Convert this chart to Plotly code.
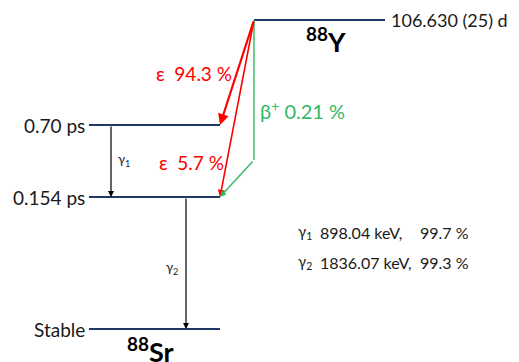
import plotly.graph_objects as go

# ---- Decay scheme data (diagram coordinates) ----
level_labels = ["106.630 (25) d", "0.70 ps", "0.154 ps", "Stable"]
level_y = [20, 125, 197, 329]
level_x0 = [254, 89, 89, 89]
level_x1 = [385, 220, 220, 220]

nuclide_labels = ["<b><sup>88</sup>Y</b>", "<b><sup>88</sup>Sr</b>"]
nuclide_x = [326, 150]
nuclide_y = [40, 350]

# epsilon branches
eps_labels = ["ε  94.3 %", "ε  5.7 %"]
eps_to = [1, 2]
eps_label_x = [194, 191]
eps_label_y = [73, 162]

beta_label = "β<sup>+</sup> 0.21 %"
beta_knee_y = 160

gamma_names = ["γ<sub>1</sub>", "γ<sub>2</sub>"]
gamma_from = [1, 2]
gamma_to = [2, 3]
gamma_x = [111, 186]
gamma_energy = ["898.04 keV,", "1836.07 keV,"]
gamma_intensity = ["99.7 %", "99.3 %"]

NAVY = "#1f3864"
RED = "#ff0000"
GREEN = "#33b864"
TXT = "#1a1a1a"
FONT = "Lato, Open Sans, sans-serif"
OFF = 8  # page body margin compensation

fig = go.Figure()

for i in range(len(level_y)):
    fig.add_trace(go.Scatter(x=[level_x0[i], level_x1[i]], y=[level_y[i], level_y[i]],
                             mode="lines", line=dict(color=NAVY, width=2.2),
                             hoverinfo="skip", showlegend=False))

ann = []
ann.append(dict(x=level_x1[0] + 4, y=level_y[0], text=level_labels[0], xanchor="left",
                yanchor="middle", showarrow=False, font=dict(size=18, color=TXT, family=FONT)))
for i in range(1, 4):
    ann.append(dict(x=level_x0[i] - 2, y=level_y[i], text=level_labels[i], xanchor="right",
                    yanchor="middle", showarrow=False, font=dict(size=19, color=TXT, family=FONT)))
for t, x, y in zip(nuclide_labels, nuclide_x, nuclide_y):
    ann.append(dict(x=x, y=y, text=t, showarrow=False, xanchor="center", yanchor="middle",
                    font=dict(size=27, color="black", family=FONT)))

widths = [2.2, 1.6]
for k in range(2):
    j = eps_to[k]
    ann.append(dict(x=level_x1[j], y=level_y[j], ax=level_x0[0], ay=level_y[0],
                    xref="x", yref="y", axref="x", ayref="y", text="", showarrow=True,
                    arrowhead=2, arrowsize=1.0 if k == 0 else 0.9, arrowwidth=widths[k],
                    arrowcolor=RED))
    ann.append(dict(x=eps_label_x[k], y=eps_label_y[k], text=eps_labels[k], showarrow=False,
                    xanchor="center", yanchor="middle", font=dict(size=19, color=RED, family=FONT)))

fig.add_trace(go.Scatter(x=[level_x0[0], level_x0[0]], y=[level_y[0], beta_knee_y],
                         mode="lines", line=dict(color=GREEN, width=1.4),
                         hoverinfo="skip", showlegend=False))
ann.append(dict(x=level_x1[2], y=level_y[2], ax=level_x0[0], ay=beta_knee_y,
                xref="x", yref="y", axref="x", ayref="y", text="", showarrow=True,
                arrowhead=2, arrowsize=0.9, arrowwidth=1.4, arrowcolor=GREEN))
ann.append(dict(x=258, y=110, text=beta_label, showarrow=False, xanchor="left", yanchor="middle",
                font=dict(size=20, color=GREEN, family=FONT)))

for k in range(2):
    ann.append(dict(x=gamma_x[k], y=level_y[gamma_to[k]], ax=gamma_x[k], ay=level_y[gamma_from[k]],
                    xref="x", yref="y", axref="x", ayref="y", text="", showarrow=True,
                    arrowhead=2, arrowsize=1.0, arrowwidth=1.2, arrowcolor="black"))
ann.append(dict(x=gamma_x[0] + 5, y=160, text=gamma_names[0], showarrow=False, xanchor="left",
                yanchor="middle", font=dict(size=13, color=TXT, family=FONT)))
ann.append(dict(x=gamma_x[1] - 6, y=268, text=gamma_names[1], showarrow=False, xanchor="right",
                yanchor="middle", font=dict(size=13, color=TXT, family=FONT)))

for k, yy in enumerate([232, 262]):
    ann.append(dict(x=296, y=yy, text=gamma_names[k], showarrow=False, xanchor="left",
                    yanchor="middle", font=dict(size=15, color=TXT, family=FONT)))
    ann.append(dict(x=318, y=yy, text=gamma_energy[k], showarrow=False, xanchor="left",
                    yanchor="middle", font=dict(size=16, color=TXT, family=FONT)))
    ann.append(dict(x=418, y=yy, text=gamma_intensity[k], showarrow=False, xanchor="left",
                    yanchor="middle", font=dict(size=16, color=TXT, family=FONT)))

fig.update_layout(
    width=519, height=362, margin=dict(l=0, r=0, t=0, b=0),
    paper_bgcolor="white", plot_bgcolor="white",
    xaxis=dict(range=[OFF, 519 + OFF], visible=False, fixedrange=True),
    yaxis=dict(range=[362 + OFF, OFF], visible=False, fixedrange=True),
    annotations=ann, showlegend=False,
)
fig.write_html("out.html")
